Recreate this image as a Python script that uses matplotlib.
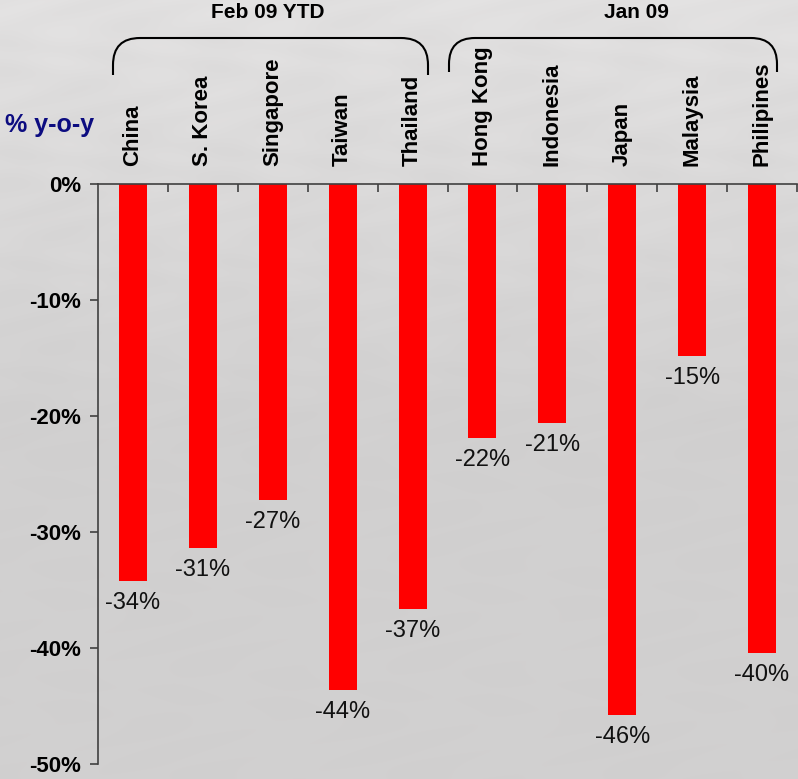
import numpy as np
import matplotlib.pyplot as plt
from matplotlib.path import Path
from matplotlib.patches import PathPatch

plt.rcParams['font.family'] = ['Liberation Sans', 'DejaVu Sans']

countries = ['China', 'S. Korea', 'Singapore', 'Taiwan', 'Thailand',
             'Hong Kong', 'Indonesia', 'Japan', 'Malaysia', 'Philipines']
growth = [-34.2, -31.4, -27.2, -43.6, -36.6, -21.9, -20.6, -45.8, -14.8, -40.4]
groups = ['Feb 09 YTD', 'Jan 09']
yticks = [0, -10, -20, -30, -40, -50]

W, H = 798, 779
fig = plt.figure(figsize=(W / 100, H / 100), dpi=100)

# backdrop: grey sea-like wash, lighter at the top
bg = fig.add_axes([0, 0, 1, 1], zorder=0)
yy, xx = np.mgrid[0:H, 0:W].astype(float)
shade = 0.885 - 0.065 * np.clip(yy / 420, 0, 1)
ripple = (np.sin(xx / 23 + np.sin(yy / 17) * 2.2) * np.sin(yy / 9 + xx / 61)) * 0.009
ripple *= np.clip(1.2 - yy / 600, 0.25, 1)
img = np.clip(shade + ripple, 0, 1)
rgb = np.dstack([img, img * 0.995, img * 0.995])
bg.imshow(rgb, extent=[0, W, H, 0], aspect='auto')
bg.set_xlim(0, W)
bg.set_ylim(H, 0)
bg.axis('off')

ax = fig.add_axes([98 / W, 1 - 764 / H, 699 / W, 580 / H], zorder=1)
ax.patch.set_alpha(0)

x = np.arange(len(countries))
ax.bar(x, growth, width=0.4, color='#ff0000', zorder=2)
for xi, v in zip(x, growth):
    ax.annotate(f'{v:.0f}%', (xi, v), xytext=(0, -8), textcoords='offset points',
                ha='center', va='top', fontsize=17, color='#111111')

for xi, name in zip(x, countries):
    ax.annotate(name, (xi, 0), xytext=(0, 13), textcoords='offset points',
                rotation=90, ha='center', va='bottom', fontsize=16,
                fontweight='bold', annotation_clip=False)

ax.set_xlim(-0.5, len(countries) - 0.5)
ax.set_ylim(-50, 0)
ax.set_yticks(yticks)
ax.set_yticklabels([f'{t}%' for t in yticks], fontsize=16, fontweight='bold')
ax.tick_params(axis='y', direction='out', length=6, width=1.2, color='#404040', pad=6)

ax.xaxis.tick_top()
ax.set_xticks(np.arange(len(countries)) + 0.5)
ax.set_xticklabels([])
ax.tick_params(axis='x', direction='in', length=6, width=1.2, color='#404040')

for side in ['bottom', 'right']:
    ax.spines[side].set_visible(False)
for side in ['left', 'top']:
    ax.spines[side].set_color('#404040')
    ax.spines[side].set_linewidth(1.2)

fig.text(5 / W, 1 - 125 / H, '% y-o-y', fontsize=18, fontweight='bold',
         color='#0c0c80', ha='left', va='center')


def bracket(x0, x1, ytop, ybot, r):
    verts = [(x0, ybot), (x0, ytop + r), (x0, ytop), (x0 + r, ytop),
             (x1 - r, ytop), (x1, ytop), (x1, ytop + r), (x1, ybot)]
    codes = [Path.MOVETO, Path.LINETO, Path.CURVE3, Path.CURVE3,
             Path.LINETO, Path.CURVE3, Path.CURVE3, Path.LINETO]
    bg.add_patch(PathPatch(Path(verts, codes), fill=False, lw=1.5, color='black'))


bracket(113, 428, 38, 75, 27)
bracket(449, 777, 38, 72, 26)
fig.text(268 / W, 1 - 12 / H, groups[0], fontsize=15, fontweight='bold',
         ha='center', va='center')
fig.text(636 / W, 1 - 12 / H, groups[1], fontsize=15, fontweight='bold',
         ha='center', va='center')

fig.savefig('out.png', dpi=100)
